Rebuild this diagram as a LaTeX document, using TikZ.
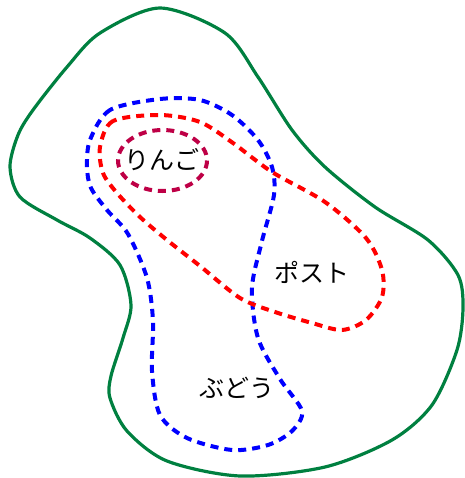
\documentclass[tikz,border=0pt]{standalone}
\usepackage{fontspec}
\newfontfamily\jpfont{Noto Sans CJK JP}
\definecolor{setgreen}{RGB}{0,128,64}
\definecolor{applered}{RGB}{190,0,70}
\tikzset{setline/.style={line width=2pt,dash pattern=on 4pt off 3pt},
  setname/.style={font=\jpfont\fontsize{12.5}{14}\selectfont,inner sep=0pt}}

\begin{document}
\begin{tikzpicture}[x=.5pt,y=-.5pt]
\useasboundingbox(0,0)rectangle(465,478);
% universe
\draw[setgreen,line width=1.6pt]plot[smooth cycle]coordinates{(160,8)(225,33)(258,77)(292,130)(325,167)(375,207)(428,240)(458,275)(463,308)(457,350)(432,405)(392,440)(325,467)(240,476)(167,461)(127,431)(110,398)(111,376)(123,338)(131,305)(120,265)(90,238)(57,220)(20,197)(10,167)(18,135)(33,110)(67,67)(100,33)};
% grapes
\draw[blue,setline]plot[smooth cycle]coordinates{(160,99)(110,110)(90,140)(87,167)(91,188)(107,210)(128,234)(147,278)(153,321)(152,371)(160,415)(187,438)(232,450)(268,445)(292,431)(302,411)(280,379)(258,338)(252,288)(262,241)(274,195)(272,167)(258,140)(232,115)(200,100)};
% post
\draw[red,setline]plot[smooth cycle]coordinates{(160,115)(113,121)(100,147)(103,173)(117,193)(140,217)(167,240)(200,266)(240,298)(275,312)(312,323)(342,330)(366,320)(382,297)(382,270)(366,238)(325,202)(272,172)(233,143)(200,122)};
% apple
\draw[applered,setline](162.5,160.5)ellipse(44.5 and 30.5);
\node[setname](apple)at(162,160){りんご};
\node[setname](post)at(312,272){ポスト};
\node[setname](grape)at(237,388){ぶどう};
\end{tikzpicture}
\end{document}
